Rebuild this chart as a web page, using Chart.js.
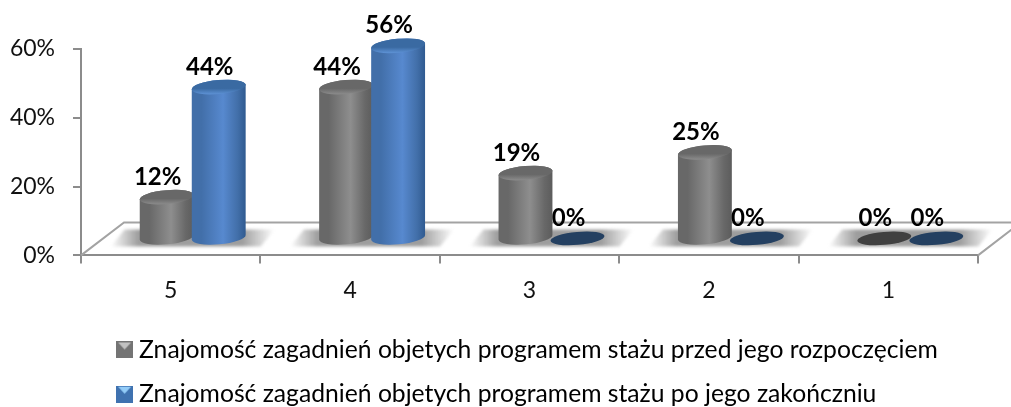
<!DOCTYPE html>
<html>
<head>
<meta charset="utf-8">
<style>
html,body{margin:0;padding:0;background:#fff}
#wrap{position:relative;width:1011px;height:407px}
canvas{display:block}
</style>
<script src="https://cdn.jsdelivr.net/npm/chart.js@4"></script>
</head>
<body>
<div id="wrap"><canvas id="c" width="1011" height="407"></canvas></div>
<script>
const categories = ['5', '4', '3', '2', '1'];
const seriesBefore = [12, 44, 19, 25, 0];
const seriesAfter = [44, 56, 0, 0, 0];
const seriesBeforeName = 'Znajomość zagadnień objetych programem stażu przed jego rozpoczęciem';
const seriesAfterName = 'Znajomość zagadnień objetych programem stażu po jego zakończniu';
const FONT = 'Lato, Carlito, sans-serif';

const STYLE = {
  '#808080': {left:'#686868', mid:'#8e8e8e', right:'#5c5c5c', top0:'#686868', top1:'#8a8a8a', flat:'#404040',
              iconBase:'#747474', iconTop:'#c2c2c2'},
  '#4f81bd': {left:'#426fa9', mid:'#5789cf', right:'#2f5a90', top0:'#3a6aa2', top1:'#5c90d3', flat:'#244061',
              iconBase:'#3f72b0', iconTop:'#93ccf8'}
};
const DX = 22, DY = 17, BACK_DX = 43, BACK_DY = 33, ROT = -0.09, RY = 7;

function legendIcon(key){
  const s = STYLE[key], c = document.createElement('canvas');
  c.width = 17; c.height = 17;
  const g = c.getContext('2d');
  g.fillStyle = s.iconBase; g.fillRect(0,0,17,17);
  g.filter = 'blur(0.7px)';
  g.fillStyle = s.iconTop;
  g.beginPath(); g.moveTo(2,1); g.lineTo(15,1); g.lineTo(8.5,8); g.closePath(); g.fill();
  return c;
}

// Cylinders: every bar is rendered by the library's own bar element pipeline.
Chart.BarElement.prototype.draw = function(ctx){
  const {x, y, base, width} = this.getProps(['x','y','base','width']);
  const s = STYLE[this.options.backgroundColor];
  const rx = width * 0.52, cx = x + DX, yb = base - DY, yt = y - DY;
  ctx.save();
  if (base - y < 0.5) {
    ctx.fillStyle = s.flat;
    ctx.beginPath(); ctx.ellipse(cx, yb, rx, RY-0.5, ROT, 0, Math.PI*2); ctx.fill();
    ctx.restore();
    return;
  }
  const g = ctx.createLinearGradient(cx-rx, 0, cx+rx, 0);
  g.addColorStop(0, s.left); g.addColorStop(0.18, s.left); g.addColorStop(0.58, s.mid);
  g.addColorStop(0.85, s.left); g.addColorStop(1, s.right);
  ctx.fillStyle = g;
  ctx.beginPath();
  ctx.ellipse(cx, yb, rx, RY, ROT, 0, Math.PI);
  ctx.ellipse(cx, yt, rx, RY, ROT, Math.PI, Math.PI*2);
  ctx.closePath(); ctx.fill();
  const t = ctx.createLinearGradient(0, yt-RY, 0, yt+RY);
  t.addColorStop(0, s.top0); t.addColorStop(0.6, s.top0); t.addColorStop(1, s.top1);
  ctx.fillStyle = t;
  ctx.beginPath(); ctx.ellipse(cx, yt, rx, RY, ROT, 0, Math.PI*2); ctx.fill();
  ctx.restore();
};

const floorPlugin = {
  id: 'floor',
  beforeDatasetsDraw(chart){
    const {ctx, chartArea:a, scales:{x:xs}} = chart;
    ctx.save();
    ctx.strokeStyle = '#a3a3a3'; ctx.lineWidth = 2;
    ctx.beginPath();
    ctx.moveTo(a.left, a.bottom); ctx.lineTo(a.left+BACK_DX, a.bottom-BACK_DY);
    ctx.lineTo(a.right+BACK_DX, a.bottom-BACK_DY); ctx.lineTo(a.right, a.bottom);
    ctx.stroke();
    ctx.filter = 'blur(1.5px)';
    categories.forEach((c, i) => {
      const cx = xs.getPixelForValue(i) + DX;
      const hw = 74, y0 = a.bottom-BACK_DY+7, y1 = a.bottom-9;
      const g = ctx.createLinearGradient(cx-hw-8, 0, cx+hw+8, 0);
      g.addColorStop(0, 'rgba(140,140,140,0)');
      g.addColorStop(0.17, 'rgba(140,140,140,0.85)');
      g.addColorStop(0.8, 'rgba(140,140,140,0.85)');
      g.addColorStop(1, 'rgba(140,140,140,0)');
      ctx.fillStyle = g;
      ctx.beginPath();
      ctx.moveTo(cx-hw+6, y0); ctx.lineTo(cx+hw+8, y0); ctx.lineTo(cx+hw-6, y1); ctx.lineTo(cx-hw-8, y1);
      ctx.closePath(); ctx.fill();
    });
    ctx.restore();
  }
};

const labelPlugin = {
  id: 'barLabels',
  beforeDatasetDraw(chart, args){
    if (args.index === 1) return false;
  },
  afterDatasetsDraw(chart){
    const ctx = chart.ctx;
    chart.getDatasetMeta(1).controller.draw();
    ctx.save();
    ctx.font = 'bold 24px ' + FONT;
    ctx.fillStyle = '#000';
    ctx.textAlign = 'center'; ctx.textBaseline = 'middle';
    chart.data.datasets.forEach((d, di) => {
      chart.getDatasetMeta(di).data.forEach((el, i) => {
        ctx.fillText(d.data[i] + '%', el.x + 13, el.y - 37);
      });
    });
    ctx.restore();
  },
  afterLayout(chart){
    const l = chart.legend;
    if (l) { l.left = 102.85; l.right = 1011; l.top = 318; l.bottom = 407; }
  }
};

new Chart(document.getElementById('c'), {
  type: 'bar',
  data: {
    labels: categories,
    datasets: [
      {label: seriesBeforeName, data: seriesBefore, backgroundColor: '#808080', clip: false},
      {label: seriesAfterName, data: seriesAfter, backgroundColor: '#4f81bd', clip: false}
    ]
  },
  plugins: [floorPlugin, labelPlugin],
  options: {
    responsive: false,
    animation: false,
    layout: {padding: {top: 49, right: 33, left: 0, bottom: 0}},
    categoryPercentage: 0.58,
    barPercentage: 1,
    plugins: {
      tooltip: {enabled: false},
      legend: {
        position: 'bottom',
        align: 'start',
        labels: {
          usePointStyle: true,
          pointStyleWidth: 4.3,
          font: {family: FONT, size: 24.7},
          color: '#111',
          padding: 19.6,
          generateLabels(chart){
            return chart.data.datasets.map((d, i) => ({
              text: d.label, datasetIndex: i, lineWidth: 0, strokeStyle: 'transparent',
              fillStyle: d.backgroundColor, pointStyle: legendIcon(d.backgroundColor)
            }));
          }
        }
      }
    },
    scales: {
      x: {
        grid: {drawOnChartArea: false, color: '#8c8c8c', lineWidth: 2, tickLength: 8},
        border: {color: '#8c8c8c', width: 2},
        ticks: {font: {family: FONT, size: 23}, color: '#111', padding: 13},
        afterFit(s){ s.height = 53; }
      },
      y: {
        min: 0, max: 60,
        grid: {drawOnChartArea: false, color: '#8c8c8c', lineWidth: 2, tickLength: 8},
        border: {color: '#8c8c8c', width: 2},
        ticks: {stepSize: 20, font: {family: FONT, size: 23}, color: '#111', padding: 18, callback: v => v + '%'},
        afterFit(s){ s.width = 81; }
      }
    }
  }
});
</script>
</body>
</html>
